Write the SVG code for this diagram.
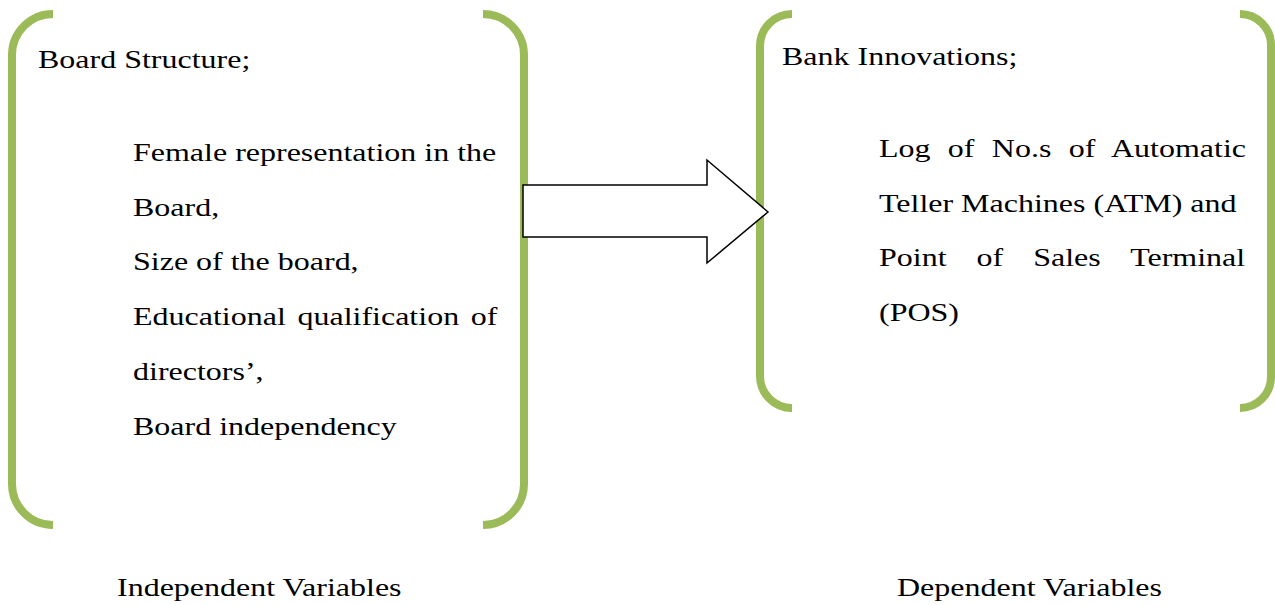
<svg xmlns="http://www.w3.org/2000/svg" width="1275" height="605" viewBox="0 0 1275 605">
<style>
.br{fill:none;stroke:#9BBB59;stroke-width:8}
.t{font-family:"Liberation Serif","Times New Roman",serif;font-size:25px;fill:#000}
.arrow{fill:#fff;stroke:#000;stroke-width:1.5;stroke-linejoin:miter}
</style>
<rect width="1275" height="605" fill="#fff"/>
<g id="independent">
<path class="br" d="M53,14 A41,41 0 0 0 12,55 L12,484 A41,41 0 0 0 53,525"/>
<path class="br" d="M483,14 A41,41 0 0 1 524,55 L524,484 A41,41 0 0 1 483,525"/>
<text class="t" transform="translate(38,68) scale(1.28,1)">Board Structure;</text>
<text class="t" transform="translate(133,161) scale(1.28,1)">Female representation in the</text>
<text class="t" transform="translate(133,216) scale(1.28,1)">Board,</text>
<text class="t" transform="translate(133,270) scale(1.28,1)">Size of the board,</text>
<text class="t" transform="translate(133,325) scale(1.28,1)" word-spacing="2.9">Educational qualification of</text>
<text class="t" transform="translate(133,380) scale(1.28,1)">directors’,</text>
<text class="t" transform="translate(133,435) scale(1.28,1)">Board independency</text>
</g>
<g id="dependent">
<path class="br" d="M792,14 A32,32 0 0 0 760,46 L760,376 A32,32 0 0 0 792,408"/>
<path class="br" d="M1240,14 A31,31 0 0 1 1271,45 L1271,377 A31,31 0 0 1 1240,408"/>
<text class="t" transform="translate(782,65) scale(1.28,1)">Bank Innovations;</text>
<text class="t" transform="translate(879,157) scale(1.28,1)" word-spacing="7.3">Log of No.s of Automatic</text>
<text class="t" transform="translate(879,212) scale(1.28,1)">Teller Machines (ATM) and</text>
<text class="t" transform="translate(879,266) scale(1.28,1)" word-spacing="17.2">Point of Sales Terminal</text>
<text class="t" transform="translate(879,321) scale(1.28,1)">(POS)</text>
</g>
<g id="connectors">
<polygon class="arrow" points="523,185 707,185 707,160 768,212 707,263 707,237 523,237"/>
</g>
<g id="labels">
<text class="t" transform="translate(117,596) scale(1.28,1)">Independent Variables</text>
<text class="t" transform="translate(897,596) scale(1.28,1)">Dependent Variables</text>
</g>
</svg>
